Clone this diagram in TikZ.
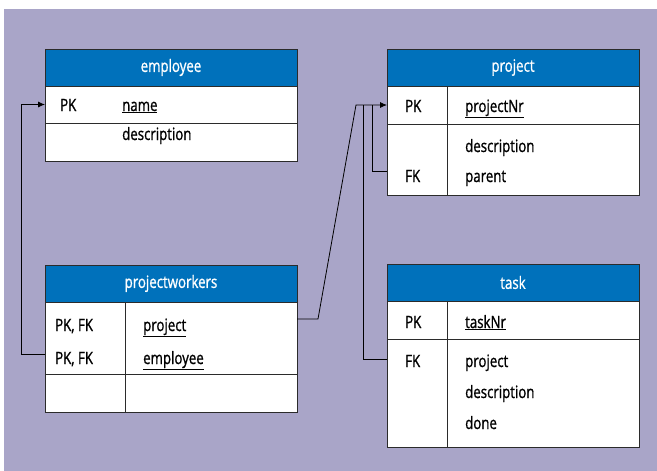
\documentclass[tikz,border=0pt]{standalone}
\usepackage{fontspec}
\setmainfont[FakeStretch=0.78,FakeBold=1]{Open Sans}
\usepackage{tikz}
\usetikzlibrary{positioning,arrows.meta}
\definecolor{bgpurple}{HTML}{A9A5C8}
\definecolor{hdblue}{HTML}{0071BB}
\definecolor{rimgray}{HTML}{2B2B2B}

\begin{document}
\begin{tikzpicture}[x=1pt,y=-1pt,font=\fontsize{17pt}{20pt}\selectfont,
  tbl/.style={draw=rimgray,line width=0.9pt,minimum width=252pt,inner sep=0pt,outer sep=0pt},
  head/.style={tbl,fill=hdblue,text=white,minimum height=37pt},
  row/.style={tbl,fill=white},
  lbl/.style={anchor=base west,inner sep=0pt},
  link/.style={line width=0.8pt},
  tip/.style={-{Latex[length=7pt,width=6pt]}}]
\useasboundingbox (0,0) rectangle (657,471);
\fill[bgpurple] (4,9) rectangle (657,471);

%% employee
\node[head] (emp) at (171,67.5) {employee};
\node[row,minimum height=37pt,below=0pt of emp] (empk) {};
\node[row,minimum height=38pt,below=0pt of empk] (emfld) {};
\node[lbl] (empkl) at (60,111) {PK};
\node[lbl] (emname) at (122,111) {\underline{name}};
\node[lbl] (emdesc) at (122,140) {description};

%% project
\node[head] (prj) at (513,67.5) {project};
\node[row,minimum height=38pt,below=0pt of prj] (prk) {};
\node[row,minimum height=71pt,below=0pt of prk] (prf) {};
\draw[rimgray,line width=0.9pt] ([xshift=60pt]prk.north west) -- ([xshift=60pt]prf.south west);
\node[lbl] (prpkl) at (405,112) {PK};
\node[lbl] (prnr) at (465,112) {\underline{projectNr}};
\node[lbl] (prdesc) at (465,152) {description};
\node[lbl] (prfkl) at (405,182) {FK};
\node[lbl] (prpar) at (465,182) {parent};

%% projectworkers
\node[head] (pw) at (171,283.5) {projectworkers};
\node[row,minimum height=72pt,below=0pt of pw] (pwk) {};
\node[row,minimum height=38pt,below=0pt of pwk] (pwf) {};
\draw[rimgray,line width=0.9pt] ([xshift=80pt]pwk.north west) -- ([xshift=80pt]pwf.south west);
\node[lbl] (pwkl1) at (55,331) {PK, FK};
\node[lbl] (pwprj) at (143,331) {\underline{project}};
\node[lbl] (pwkl2) at (55,364) {PK, FK};
\node[lbl] (pwemp) at (143,364) {\underline{employee}};

%% task
\node[head] (tsk) at (513,282.5) {task};
\node[row,minimum height=38pt,below=0pt of tsk] (tkk) {};
\node[row,minimum height=108pt,below=0pt of tkk] (tkf) {};
\draw[rimgray,line width=0.9pt] ([xshift=60pt]tkk.north west) -- ([xshift=60pt]tkf.south west);
\node[lbl] (tkpkl) at (405,328) {PK};
\node[lbl] (tknr) at (465,328) {\underline{taskNr}};
\node[lbl] (tkfkl) at (405,367) {FK};
\node[lbl] (tkprj) at (465,367) {project};
\node[lbl] (tkdesc) at (465,398) {description};
\node[lbl] (tkdone) at (465,429) {done};

%% liens
\draw[link,tip] ([yshift=-16pt]pwk.west) -| ([xshift=-24pt]empk.west) -- (empk.west);
\draw[link,tip] ([yshift=19pt]pwk.east) -- ++(21,0) -- ([xshift=-31pt]prk.west) -- (prk.west);
\draw[link] ([yshift=34pt]tkf.west) -| ([xshift=-24pt]prk.west);
\draw[link] ([yshift=-11.5pt]prf.west) -| ([xshift=-15pt]prk.west);
\end{tikzpicture}
\end{document}
